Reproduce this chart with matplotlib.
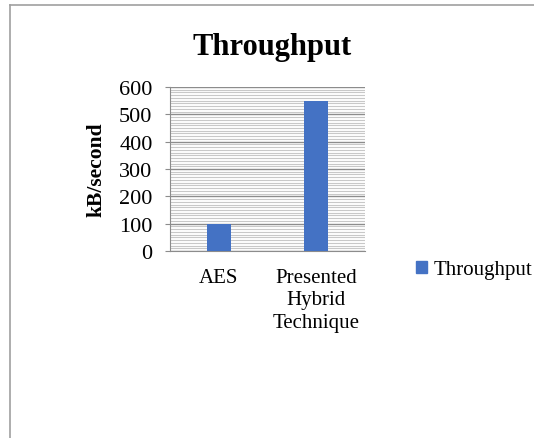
import numpy as np
import matplotlib.pyplot as plt
from matplotlib.lines import Line2D
from matplotlib.patches import Patch

categories = ["AES", "Presented\nHybrid\nTechnique"]
throughput = [100, 550]
yticks = [0, 100, 200, 300, 400, 500, 600]

plt.rcParams['font.family'] = ['Liberation Serif', 'DejaVu Serif']

W, H = 534, 439
fig = plt.figure(figsize=(W / 100, H / 100), dpi=100)

# plot area in pixel coords
left, right, top, bottom = 170, 365, 88, 252
ax = fig.add_axes([left / W, 1 - bottom / H, (right - left) / W, (bottom - top) / H])

x = np.arange(len(categories))
ax.bar(x, throughput, width=0.25, color='#4472C4', zorder=3)
ax.set_xlim(-0.5, len(categories) - 0.5)
ax.set_ylim(0, 600)

ax.set_yticks(yticks)
ax.set_yticks(np.arange(0, 601, 10), minor=True)
ax.yaxis.grid(True, which='major', color='#8c8c8c', linewidth=1.0, zorder=0)
ax.yaxis.grid(True, which='minor', color='#c8c8c8', linewidth=0.8, zorder=0)
ax.tick_params(axis='y', which='minor', length=0)
ax.tick_params(axis='y', which='major', length=3.6, color='#8c8c8c', direction='out',
               labelsize=16, pad=9)

ax.set_xticks(x)
ax.set_xticklabels(categories, fontsize=15, linespacing=1.25)
ax.tick_params(axis='x', length=0, pad=12)

for s in ['top', 'right']:
    ax.spines[s].set_visible(False)
ax.spines['left'].set_color('#8c8c8c')
ax.spines['bottom'].set_color('#8c8c8c')

ax.set_ylabel('kB/second', fontsize=15.5, fontweight='bold')
ax.yaxis.set_label_coords((107 - left) / (right - left), 0.5)
fig.text(272 / W, 1 - 47 / H, 'Throughput', ha='center', va='center',
         fontsize=22, fontweight='bold')

fig.legend(handles=[Patch(color='#4472C4', label='Throughput')],
           loc='center left', bbox_to_anchor=(416 / W, 1 - 271 / H),
           frameon=False, fontsize=15, handlelength=0.55, handleheight=0.55,
           handletextpad=0.3, borderpad=0, borderaxespad=0)

# outer chart border (top and left visible)
fig.add_artist(Line2D([10 / W, 1], [1 - 6 / H, 1 - 6 / H], color='#a0a0a0', lw=1.2,
                      transform=fig.transFigure))
fig.add_artist(Line2D([10 / W, 10 / W], [0, 1 - 6 / H], color='#a0a0a0', lw=1.2,
                      transform=fig.transFigure))

fig.savefig('out.png', dpi=100)
